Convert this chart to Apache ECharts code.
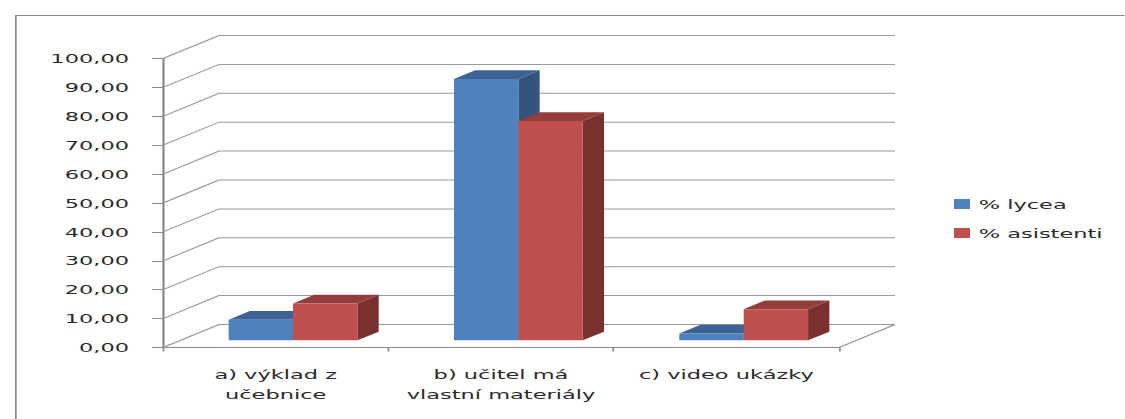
<!DOCTYPE html>
<html>
<head>
<meta charset="utf-8">
<script src="https://cdn.jsdelivr.net/npm/echarts@6/dist/echarts.min.js"></script>
<style>
  html, body { margin: 0; padding: 0; background: #fff; overflow: hidden; }
  /* The drawing is laid out narrow and widened horizontally as a whole. */
  #chart { height: 419px; transform-origin: 0 0; }
</style>
</head>
<body>
<div id="chart"></div>
<script>
// Categories, series and axis ticks
const categories = ['a) výklad z\nučebnice', 'b) učitel má\nvlastní materiály', 'c) video ukázky'];
const seriesNames = ['% lycea', '% asistenti'];
const lyceaValues = [7.1, 90.4, 2.4];
const asistentiValues = [12.8, 75.9, 10.8];
const yTickValues = [0, 10, 20, 30, 40, 50, 60, 70, 80, 90, 100];
const yTickLabels = ['0,00', '10,00', '20,00', '30,00', '40,00', '50,00', '60,00', '70,00', '80,00', '90,00', '100,00'];

// Horizontal widening factor and page size
const S = 1.73;
const PAGE_W = 1125, PAGE_H = 419;
const W = PAGE_W / S;

const chartEl = document.getElementById('chart');
chartEl.style.width = W + 'px';
chartEl.style.transform = 'scaleX(' + S + ')';

// Oblique depth of the 3D box (back wall offset from the front plane)
const DX = 56 / S, DY = -23;
// Bars occupy the middle of the depth
const F0 = 0.31, F1 = 0.69;

const GRID_COLOR = '#9a9a9a';
const AXIS_COLOR = '#8a8a8a';
const TEXT_COLOR = '#2a2a2a';
const FONT = 'DejaVu Sans';

const barStyles = [
  { front: '#4F81BD', top: '#3D6395', side: '#33547D' },
  { front: '#C0504D', top: '#933E3B', side: '#7A302E' }
];

const tickLabelMap = {};
yTickValues.forEach((v, i) => { tickLabelMap[v] = yTickLabels[i]; });

function wallItem(params, api) {
  const cs = params.coordSys;
  const v = api.value(0);
  const p = api.coord([0, v]);
  const xl = cs.x, xr = cs.x + cs.width, y = p[1];
  const children = [{
    type: 'polyline',
    shape: { points: [[xl, y], [xl + DX, y + DY], [xr + DX, y + DY]] },
    style: { stroke: GRID_COLOR, lineWidth: 1, fill: null }
  }];
  if (v === 0) {
    children.push({
      type: 'line',
      shape: { x1: xr, y1: y, x2: xr + DX, y2: y + DY },
      style: { stroke: GRID_COLOR, lineWidth: 1 }
    });
  }
  return { type: 'group', children: children };
}

function makeBarRenderer(idx) {
  const st = barStyles[idx];
  return function (params, api) {
    const cat = api.value(0), val = api.value(1);
    const base = api.coord([cat, 0]);
    const top = api.coord([cat, val]);
    const catW = api.size([1, 0])[0];
    const w = catW / 3.5;
    const dx0 = DX * F0, dy0 = DY * F0;
    const ddx = DX * (F1 - F0), ddy = DY * (F1 - F0);
    const x0 = base[0] - w + idx * w + dx0;
    const x1 = x0 + w;
    const yb = base[1] + dy0, yt = top[1] + dy0;
    return {
      type: 'group',
      children: [
        { type: 'polygon', shape: { points: [[x1, yb], [x1 + ddx, yb + ddy], [x1 + ddx, yt + ddy], [x1, yt]] }, style: { fill: st.side } },
        { type: 'polygon', shape: { points: [[x0, yt], [x1, yt], [x1 + ddx, yt + ddy], [x0 + ddx, yt + ddy]] }, style: { fill: st.top } },
        { type: 'rect', shape: { x: x0, y: yt, width: w, height: yb - yt }, style: { fill: st.front } }
      ]
    };
  };
}

const chart = echarts.init(chartEl, null, { renderer: 'svg', width: W, height: PAGE_H });

chart.setOption({
  animation: false,
  backgroundColor: '#fff',
  textStyle: { fontFamily: FONT },
  graphic: [{
    type: 'rect',
    left: 11.5 / S, top: 13,
    shape: { width: W, height: PAGE_H },
    style: { fill: null, stroke: AXIS_COLOR, lineWidth: 1 },
    silent: true,
    z: -10
  }],
  legend: {
    orient: 'vertical',
    left: 954 / S,
    top: 196,
    padding: 0,
    icon: 'rect',
    itemWidth: 16 / S,
    itemHeight: 10,
    itemGap: 13,
    data: seriesNames,
    textStyle: { fontFamily: FONT, fontSize: 13, lineHeight: 16, color: TEXT_COLOR }
  },
  grid: {
    left: 163 / S,
    right: W - 839 / S,
    top: 58.5,
    bottom: PAGE_H - 347.5
  },
  xAxis: {
    type: 'category',
    data: categories,
    axisLine: { show: true, lineStyle: { color: AXIS_COLOR, width: 1 } },
    axisTick: { show: true, length: 4, lineStyle: { color: AXIS_COLOR } },
    axisLabel: {
      margin: 17,
      fontFamily: FONT, fontSize: 13, lineHeight: 20, color: TEXT_COLOR,
      interval: 0
    },
    splitLine: { show: false }
  },
  yAxis: {
    type: 'value',
    min: 0, max: 100, interval: 10,
    axisLine: { show: true, lineStyle: { color: AXIS_COLOR, width: 1.3 } },
    axisTick: { show: true, length: 11 / S, lineStyle: { color: AXIS_COLOR } },
    axisLabel: {
      margin: 34 / S,
      fontFamily: FONT, fontSize: 13, color: TEXT_COLOR,
      formatter: v => tickLabelMap[v] !== undefined ? tickLabelMap[v] : ''
    },
    splitLine: { show: false }
  },
  series: [
    {
      name: 'wall',
      type: 'custom',
      silent: true,
      z: 1,
      renderItem: wallItem,
      data: yTickValues.map(v => [v]),
      encode: { y: 0 },
      clip: false
    },
    {
      name: seriesNames[0],
      type: 'custom',
      z: 3,
      itemStyle: { color: barStyles[0].front },
      renderItem: makeBarRenderer(0),
      data: lyceaValues.map((v, i) => [i, v]),
      encode: { x: 0, y: 1 },
      clip: false
    },
    {
      name: seriesNames[1],
      type: 'custom',
      z: 3,
      itemStyle: { color: barStyles[1].front },
      renderItem: makeBarRenderer(1),
      data: asistentiValues.map((v, i) => [i, v]),
      encode: { x: 0, y: 1 },
      clip: false
    }
  ]
});
</script>
</body>
</html>
